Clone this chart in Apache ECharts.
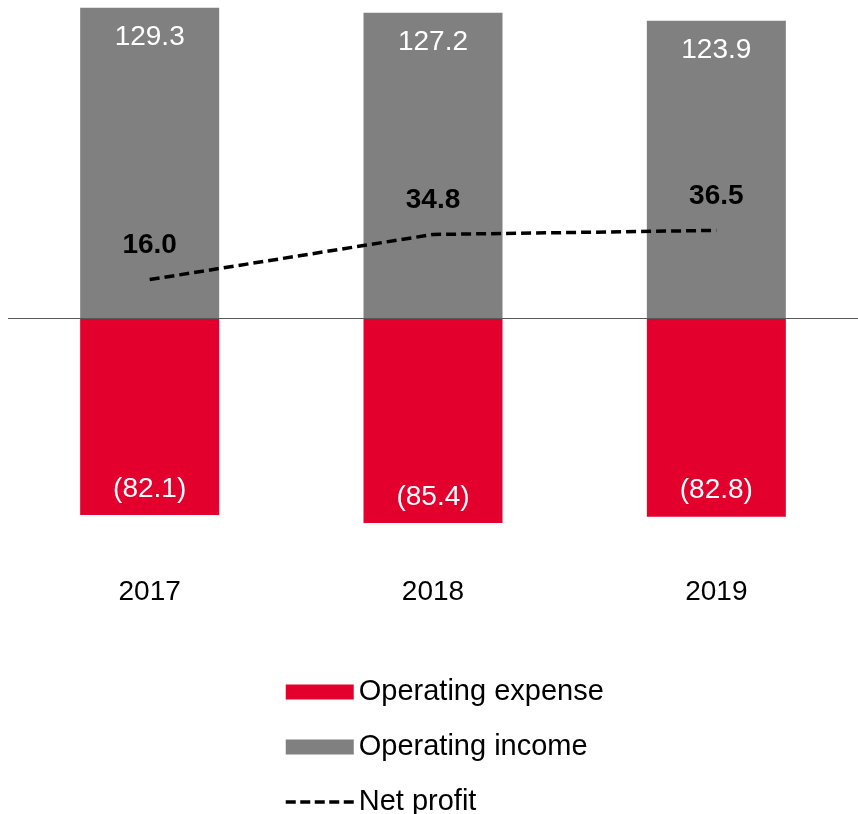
<!DOCTYPE html>
<html>
<head>
<meta charset="utf-8">
<script src="https://cdn.jsdelivr.net/npm/echarts@6/dist/echarts.min.js"></script>
<style>
  html, body { margin: 0; padding: 0; background: #fff; }
  #chart { width: 858px; height: 814px; }
</style>
</head>
<body>
<div id="chart"></div>
<script>
// 数据
const years = ['2017', '2018', '2019']
const operatingExpense = [-82.1, -85.4, -82.8]
const operatingIncome = [129.3, 127.2, 123.9]
const netProfit = [16.0, 34.8, 36.5]

const fontFamily = 'Liberation Sans, Arial, sans-serif'
const chartInstance = echarts.init(document.getElementById('chart'))

const option = {
  animation: false,
  textStyle: { fontFamily: fontFamily },
  grid: {
    left: 8,
    width: 855,
    top: 6,
    height: 552
  },
  legend: {
    orient: 'vertical',
    left: 284,
    top: 677,
    height: 140,
    padding: 0,
    itemWidth: 68,
    itemHeight: 15,
    itemGap: 25,
    textStyle: {
      fontSize: 29,
      lineHeight: 30,
      color: '#000',
      fontFamily: fontFamily
    },
    data: [
      { name: 'Operating expense', icon: 'rect' },
      { name: 'Operating income', icon: 'rect' },
      { name: 'Net profit', lineStyle: { width: 3.5, type: [10, 4.5] } }
    ]
  },
  xAxis: {
    type: 'category',
    data: years,
    axisLine: { show: false },
    axisTick: { show: false },
    axisLabel: {
      margin: 20,
      fontSize: 28,
      color: '#000',
      fontFamily: fontFamily
    }
  },
  yAxis: {
    type: 'value',
    min: -100,
    max: 130,
    show: false,
    splitLine: { show: false }
  },
  series: [
    {
      name: 'Operating expense',
      type: 'bar',
      stack: 'total',
      barWidth: 139,
      data: operatingExpense,
      itemStyle: { color: '#E3002C' },
      label: {
        show: true,
        position: 'insideBottom',
        distance: 12,
        fontSize: 28,
        color: '#fff',
        fontFamily: fontFamily,
        formatter: p => '(' + Math.abs(p.value).toFixed(1) + ')'
      },
      // 零线
      markLine: {
        silent: true,
        symbol: 'none',
        label: { show: false },
        lineStyle: { color: '#595959', width: 1, type: 'solid' },
        data: [{ yAxis: 0 }]
      }
    },
    {
      name: 'Operating income',
      type: 'bar',
      stack: 'total',
      barWidth: 139,
      data: operatingIncome,
      itemStyle: { color: '#808080' },
      label: {
        show: true,
        position: 'insideTop',
        distance: 16,
        fontSize: 28,
        color: '#fff',
        fontFamily: fontFamily,
        formatter: p => p.value.toFixed(1)
      }
    },
    {
      name: 'Net profit',
      type: 'line',
      data: netProfit,
      symbol: 'circle',
      symbolSize: 1,
      itemStyle: { color: 'rgba(0,0,0,0)' },
      lineStyle: { color: '#000', width: 3.5, type: [10, 5] },
      label: {
        show: true,
        position: 'top',
        distance: 20,
        fontSize: 28,
        fontWeight: 'bold',
        color: '#000',
        fontFamily: fontFamily,
        formatter: p => p.value.toFixed(1)
      },
      z: 5
    }
  ]
}
chartInstance.setOption(option)
</script>
</body>
</html>
